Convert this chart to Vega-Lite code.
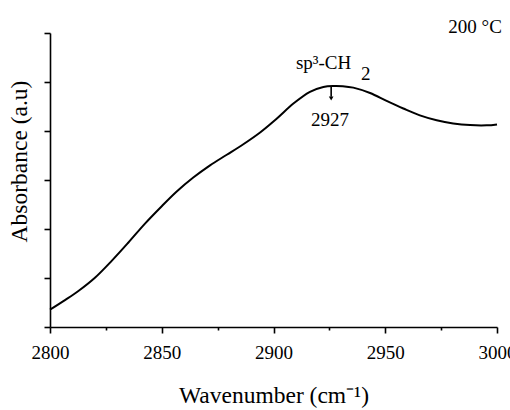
{
  "$schema": "https://vega.github.io/schema/vega-lite/v6.json",
  "autosize": "none",
  "width": 447,
  "height": 294,
  "padding": {"left": 50, "top": 33, "right": 13, "bottom": 83},
  "background": "white",
  "config": {
    "view": {"stroke": null},
    "font": "'Liberation Serif', 'Times New Roman', serif",
    "axis": {"domainColor": "black", "tickColor": "black", "labelColor": "black", "titleColor": "black", "labelFont": "'Liberation Serif', 'Times New Roman', serif", "titleFont": "'Liberation Serif', 'Times New Roman', serif", "titleFontWeight": "normal", "grid": false, "domainWidth": 1.6, "tickWidth": 1.6}
  },
  "datasets": {
    "spectrum": [
      {"wn": 2800, "abs": 0.71},
      {"wn": 2806.7, "abs": 1.1},
      {"wn": 2812.7, "abs": 1.47},
      {"wn": 2820.1, "abs": 2.01},
      {"wn": 2827.6, "abs": 2.7},
      {"wn": 2835.0, "abs": 3.44},
      {"wn": 2842.5, "abs": 4.22},
      {"wn": 2850.0, "abs": 4.93},
      {"wn": 2856.7, "abs": 5.53},
      {"wn": 2864.1, "abs": 6.1},
      {"wn": 2871.6, "abs": 6.6},
      {"wn": 2879.1, "abs": 7.03},
      {"wn": 2886.5, "abs": 7.46},
      {"wn": 2894.0, "abs": 7.94},
      {"wn": 2901.4, "abs": 8.5},
      {"wn": 2908.9, "abs": 9.12},
      {"wn": 2916.3, "abs": 9.6},
      {"wn": 2922.3, "abs": 9.8},
      {"wn": 2927.0, "abs": 9.84},
      {"wn": 2931.0, "abs": 9.83},
      {"wn": 2935.7, "abs": 9.77},
      {"wn": 2943.2, "abs": 9.55},
      {"wn": 2950.6, "abs": 9.23},
      {"wn": 2958.1, "abs": 8.92},
      {"wn": 2965.5, "abs": 8.64},
      {"wn": 2973.0, "abs": 8.44},
      {"wn": 2980.4, "abs": 8.31},
      {"wn": 2987.9, "abs": 8.24},
      {"wn": 2995.4, "abs": 8.23},
      {"wn": 3000, "abs": 8.27}
    ],
    "labels": [
      {"wn": 2922.4, "abs": 10.54, "label": "sp³-CH"},
      {"wn": 2941.3, "abs": 10.09, "label": "2"},
      {"wn": 2925.3, "abs": 8.21, "label": "2927"},
      {"wn": 2990.2, "abs": 12.0, "label": "200 °C"}
    ],
    "arrow": [
      {"wn": 2925.8, "top": 9.8, "bottom": 9.4, "tip": 9.33}
    ]
  },
  "layer": [
    {
      "data": {"name": "spectrum"},
      "mark": {"type": "line", "color": "black", "strokeWidth": 2, "interpolate": "catmull-rom"},
      "encoding": {
        "x": {
          "field": "wn", "type": "quantitative",
          "scale": {"domain": [2800, 3000], "nice": false, "zero": false},
          "axis": {
            "title": "Wavenumber (cm⁻¹)",
            "titleFontSize": 23.5,
            "titlePadding": 21,
            "format": "d",
            "values": [2800, 2825, 2850, 2875, 2900, 2925, 2950, 2975, 3000],
            "labelExpr": "datum.value % 50 === 0 ? datum.label : ''",
            "labelFontSize": 19,
            "labelPadding": 10,
            "labelFlush": false,
            "labelOverlap": false,
            "tickSize": {"condition": {"test": "datum.value % 50 === 0", "value": 6}, "value": 3}
          }
        },
        "y": {
          "field": "abs", "type": "quantitative",
          "scale": {"domain": [0, 12], "nice": false},
          "axis": {
            "title": "Absorbance  (a.u)",
            "titleFontSize": 23.5,
            "titlePadding": 12,
            "titleY": 128,
            "labels": false,
            "values": [0, 1, 2, 3, 4, 5, 6, 7, 8, 9, 10, 11, 12],
            "tickSize": 6
          }
        }
      }
    },
    {
      "data": {"name": "arrow"},
      "mark": {"type": "rule", "color": "black", "strokeWidth": 1.6},
      "encoding": {
        "x": {"field": "wn", "type": "quantitative"},
        "y": {"field": "top", "type": "quantitative"},
        "y2": {"field": "bottom"}
      }
    },
    {
      "data": {"name": "arrow"},
      "mark": {"type": "point", "shape": "triangle-down", "filled": true, "color": "black", "size": 22, "opacity": 1},
      "encoding": {
        "x": {"field": "wn", "type": "quantitative"},
        "y": {"field": "tip", "type": "quantitative"}
      }
    },
    {
      "data": {"name": "labels"},
      "mark": {"type": "text", "color": "black", "fontSize": 19, "font": "'Liberation Serif', 'Times New Roman', serif", "align": "center", "baseline": "alphabetic"},
      "encoding": {
        "x": {"field": "wn", "type": "quantitative"},
        "y": {"field": "abs", "type": "quantitative"},
        "text": {"field": "label"}
      }
    }
  ]
}
